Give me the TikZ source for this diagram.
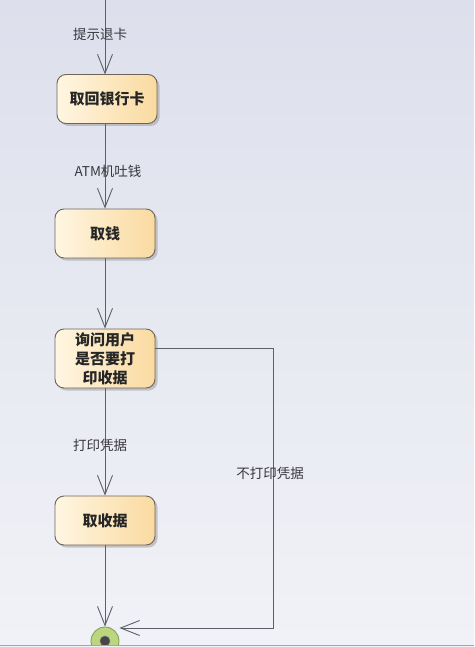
\documentclass[tikz,border=0pt]{standalone}
\usepackage{fontspec}
\setmainfont{Noto Sans CJK SC}
\usetikzlibrary{arrows.meta,shadows}
\definecolor{bgtop}{RGB}{221,224,236}
\definecolor{bgbot}{RGB}{241,242,247}
\definecolor{nleft}{RGB}{255,246,226}
\definecolor{nright}{RGB}{250,218,160}
\definecolor{nborder}{RGB}{110,100,90}
\definecolor{edgec}{RGB}{95,95,105}
\definecolor{labc}{RGB}{55,55,60}
\definecolor{fgreen}{RGB}{188,214,128}
\definecolor{fgreenb}{RGB}{125,155,80}
\definecolor{fdark}{RGB}{70,70,72}
\tikzset{
  act/.style={draw=nborder, line width=0.9pt, rounded corners=9pt,
    left color=nleft, right color=nright, minimum width=100pt,
    minimum height=49pt, align=center, inner sep=2pt,
    font=\fontsize{15}{19}\selectfont\bfseries, text=black!85,
    drop shadow={shadow xshift=2.5pt, shadow yshift=-2.5pt, fill=black!40, opacity=0.5}},
  flow/.style={draw=edgec, line width=0.9pt,
    -{Straight Barb[length=19pt,width=15pt,line width=0.9pt]}},
  lab/.style={font=\fontsize{13.5}{15}\selectfont, text=labc, fill=none, inner sep=1pt}
}
\begin{document}
\begin{tikzpicture}[x=1pt,y=-1pt]
\useasboundingbox (0,0) rectangle (474,647);
\shade[top color=bgtop, bottom color=bgbot] (0,0) rectangle (474,647);
\begin{scope}
\clip (0,0) rectangle (474,645);
\node[act] (n1) at (107,99) {取回银行卡};
\node[act] (n2) at (105,233.5) {取钱};
\node[act, minimum height=59pt] (n3) at (105,358.5) {询问用户\\是否要打\\印收据};
\node[act] (n4) at (105,520.5) {取收据};
\node[circle, draw=fgreenb, fill=fgreen, line width=0.8pt, minimum size=28pt, inner sep=0pt] (end) at (105,641) {};
\node[circle, draw=black!55, fill=fdark, line width=0.6pt, minimum size=10pt, inner sep=0pt] (endin) at (105,641) {};
\coordinate (start) at (105,0);
\coordinate (r1) at (273,348);
\coordinate (r2) at (273,628);
\coordinate (n1t) at (105,74.5);
\draw[flow] (start) -- (n1t);
\draw[flow] (n1.south -| n2.north) -- (n2.north);
\draw[flow] (n2) -- (n3);
\draw[flow] (n3) -- (n4);
\draw[flow] (n4) -- (end.north);
\draw[flow] (n3.east |- r1) -- (r1) -- (r2) -- (end.east |- r2);
\node[lab] (l1) at (100,34) {提示退卡};
\node[lab] (l2) at (108,171) {ATM机吐钱};
\node[lab] (l3) at (100,445) {打印凭据};
\node[lab] (l4) at (270,473) {不打印凭据};
\end{scope}
\draw[black!35, line width=1pt] (0,645.5) -- (474,645.5);
\end{tikzpicture}
\end{document}
